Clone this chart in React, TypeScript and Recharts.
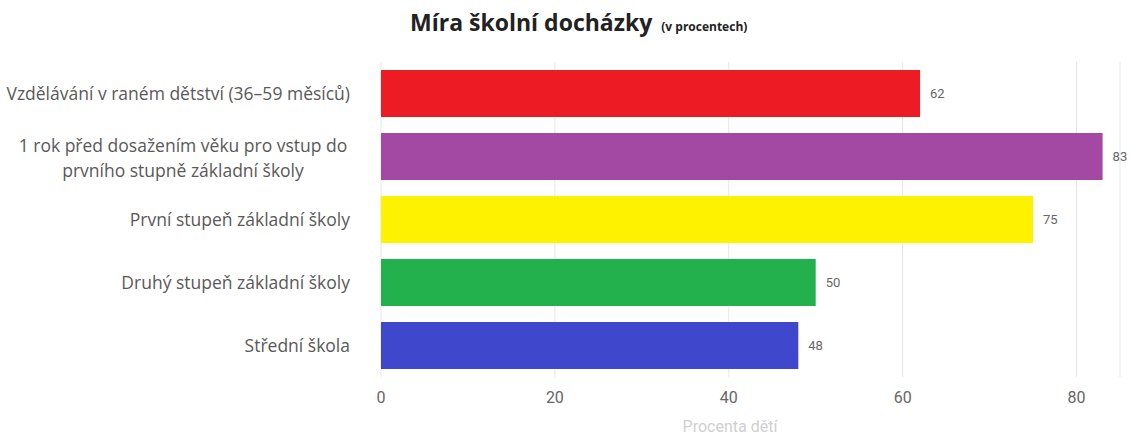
import React from 'react';
import { BarChart, Bar, XAxis, YAxis, CartesianGrid, LabelList, Cell } from 'recharts';

const categories = [
  'Vzdělávání v raném dětství (36–59 měsíců)',
  '1 rok před dosažením věku pro vstup do\nprvního stupně základní školy',
  'První stupeň základní školy',
  'Druhý stupeň základní školy',
  'Střední škola',
];
const values = [62, 83, 75, 50, 48];
const colors = ['#ED1C24', '#A349A4', '#FFF200', '#22B14C', '#3F48CC'];
const xTicks = [0, 20, 40, 60, 80];

const chartData = categories.map((name, i) => ({ name, value: values[i] }));

const FONT = '"Open Sans", "Noto Sans", sans-serif';

function CategoryTick(props: any) {
  const { x, y, payload } = props;
  const lines = String(payload.value).split('\n');
  if (lines.length === 1) {
    return (
      <text x={x} y={y} dy={6} textAnchor="end" fill="#595959" fontSize={17.5} fontFamily={FONT}>
        {lines[0]}
      </text>
    );
  }
  const lh = 25;
  const start = -((lines.length - 1) * lh) / 2;
  return (
    <text x={x - 167} y={y} textAnchor="middle" fill="#595959" fontSize={17.5} fontFamily={FONT}>
      {lines.map((l, i) => (
        <tspan key={i} x={x - 167} dy={i === 0 ? start + 8 : lh}>
          {l}
        </tspan>
      ))}
    </text>
  );
}

export default function App() {
  return (
    <div style={{ position: 'absolute', left: 0, top: 0, width: 1130, height: 434, background: '#fff' }}>
      <div
        style={{
          position: 'absolute',
          left: 410,
          top: 6,
          fontFamily: FONT,
          fontWeight: 700,
          color: '#222',
          whiteSpace: 'nowrap',
        }}
      >
        <span style={{ fontSize: 23 }}>Míra školní docházky</span>
        <span style={{ fontSize: 12, marginLeft: 9 }}>(v procentech)</span>
      </div>
      <BarChart
        width={1130}
        height={434}
        data={chartData}
        layout="vertical"
        margin={{ top: 62, right: 10, bottom: 27, left: 0 }}
        barCategoryGap={8}
      >
        <CartesianGrid horizontal={false} stroke="#e6e6e6" />
        <XAxis
          type="number"
          domain={[0, 85]}
          ticks={xTicks}
          axisLine={false}
          tickLine={false}
          tick={{ fill: '#666', fontSize: 16, fontFamily: 'Roboto, sans-serif' }}
          tickMargin={9}
        />
        <YAxis
          type="category"
          dataKey="name"
          width={381}
          axisLine={false}
          tickLine={false}
          tick={<CategoryTick />}
          tickMargin={25}
          interval={0}
        />
        <Bar dataKey="value" isAnimationActive={false}>
          {chartData.map((d, i) => (
            <Cell key={d.name} fill={colors[i]} />
          ))}
          <LabelList
            dataKey="value"
            position="right"
            offset={10}
            fill="#666"
            fontSize={13}
            fontFamily="Roboto, sans-serif"
          />
        </Bar>
      </BarChart>
      <div
        style={{
          position: 'absolute',
          left: 0,
          width: 1460,
          top: 417,
          textAlign: 'center',
          fontFamily: 'Roboto, sans-serif',
          fontSize: 16,
          color: '#cfcfcf',
        }}
      >
        Procenta dětí
      </div>
    </div>
  );
}
